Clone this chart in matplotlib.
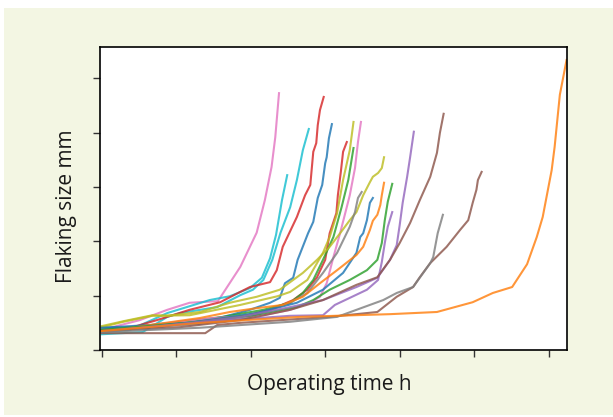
import matplotlib.pyplot as plt
from matplotlib.patches import Rectangle

# operating time (h) and flaking size (mm) per test bearing
pink_a_x = [0, 51, 88, 118, 156, 186, 208, 219, 228, 233, 238]
pink_a_y = [0.37, 0.55, 0.74, 0.87, 0.90, 1.53, 2.16, 2.76, 3.37, 3.92, 4.73]

cyan_a_x = [0, 55, 88, 105, 155, 186, 203, 217, 229, 240, 253, 262, 270, 278]
cyan_a_y = [0.29, 0.33, 0.61, 0.68, 0.79, 1.01, 1.11, 1.29, 1.66, 2.16, 2.63, 3.13, 3.68, 4.07]

cyan_b_x = [0, 38, 88, 145, 172, 199, 215, 226, 234, 242, 249]
cyan_b_y = [0.33, 0.37, 0.68, 0.92, 0.99, 1.14, 1.33, 1.69, 2.12, 2.76, 3.22]

red_a_x = [0, 29, 74, 118, 159, 186, 199, 226, 235, 243, 262, 273, 280, 284, 288, 290, 293, 298]
red_a_y = [0.37, 0.37, 0.55, 0.74, 0.88, 1.07, 1.16, 1.25, 1.47, 1.90, 2.45, 2.85, 3.04, 3.65, 3.81, 4.14, 4.42, 4.66]

blue_a_x = [0, 74, 118, 163, 199, 226, 239, 246, 257, 263, 277, 284, 290, 296, 300, 302, 305, 309]
blue_a_y = [0.41, 0.42, 0.50, 0.61, 0.74, 0.87, 0.96, 1.23, 1.33, 1.66, 2.15, 2.36, 2.80, 3.04, 3.44, 3.55, 3.90, 4.16]

red_b_x = [0, 78, 132, 172, 195, 226, 257, 276, 289, 300, 306, 315, 317, 321, 324, 329]
red_b_y = [0.35, 0.44, 0.52, 0.59, 0.64, 0.74, 0.92, 1.11, 1.34, 1.66, 2.15, 2.52, 2.85, 3.28, 3.65, 3.83]

olive_a_x = [0, 29, 68, 118, 186, 236, 253, 276, 297, 306, 316, 324, 333, 338]
olive_a_y = [0.42, 0.52, 0.63, 0.64, 0.83, 0.99, 1.07, 1.29, 1.79, 2.08, 2.52, 3.13, 3.68, 4.20]

green_a_x = [0, 96, 163, 217, 253, 270, 284, 297, 311, 322, 331, 338]
green_a_y = [0.37, 0.50, 0.61, 0.74, 0.87, 1.05, 1.29, 1.66, 2.08, 2.63, 3.13, 3.72]

pink_b_x = [0, 78, 132, 172, 217, 253, 280, 293, 302, 311, 320, 328, 333, 340, 344, 348]
pink_b_y = [0.35, 0.48, 0.57, 0.61, 0.64, 0.74, 0.87, 0.98, 1.23, 1.71, 2.15, 2.58, 2.85, 3.35, 3.83, 4.20]

olive_b_x = [0, 29, 68, 88, 132, 172, 208, 239, 270, 289, 306, 320, 333, 342, 351, 360, 364, 371, 376, 379]
olive_b_y = [0.44, 0.53, 0.64, 0.63, 0.70, 0.87, 0.98, 1.11, 1.42, 1.66, 1.90, 2.15, 2.39, 2.54, 2.85, 3.09, 3.19, 3.26, 3.35, 3.55]

gray_a_x = [0, 132, 199, 253, 276, 297, 316, 333, 340, 344, 349]
gray_a_y = [0.37, 0.48, 0.61, 0.87, 1.05, 1.42, 1.79, 2.27, 2.54, 2.80, 2.91]

blue_b_x = [0, 118, 208, 262, 297, 324, 342, 347, 351, 356, 360, 364]
blue_b_y = [0.41, 0.50, 0.68, 0.87, 1.11, 1.42, 1.79, 2.08, 2.15, 2.39, 2.71, 2.80]

orange_a_x = [0, 65, 132, 172, 208, 243, 270, 293, 316, 342, 351, 360, 364, 370, 374, 376, 379]
orange_a_y = [0.33, 0.46, 0.59, 0.70, 0.77, 0.83, 0.98, 1.23, 1.47, 1.75, 1.90, 2.21, 2.38, 2.49, 2.67, 2.85, 3.08]

green_b_x = [0, 132, 212, 262, 284, 306, 333, 356, 370, 376, 380, 384, 390]
green_b_y = [0.37, 0.52, 0.66, 0.79, 0.92, 1.11, 1.29, 1.47, 1.66, 1.97, 2.39, 2.73, 3.06]

purple_a_x = [0, 92, 172, 253, 297, 313, 333, 356, 371, 376, 380, 384, 390]
purple_a_y = [0.35, 0.46, 0.55, 0.63, 0.64, 0.83, 0.96, 1.11, 1.29, 1.62, 1.97, 2.27, 2.54]

purple_b_x = [0, 118, 186, 253, 297, 342, 370, 387, 396, 400, 404, 410, 414, 419]
purple_b_y = [0.33, 0.50, 0.61, 0.79, 0.92, 1.16, 1.33, 1.66, 1.93, 2.30, 2.71, 3.19, 3.55, 4.02]

brown_a_x = [0, 105, 186, 253, 297, 342, 370, 387, 400, 414, 427, 441, 450, 454, 459]
brown_a_y = [0.35, 0.42, 0.55, 0.74, 0.92, 1.20, 1.34, 1.66, 1.97, 2.34, 2.76, 3.19, 3.63, 4.00, 4.35]

brown_b_x = [0, 139, 155, 186, 306, 370, 396, 418, 427, 441, 463, 481, 492, 498, 503, 505, 510]
brown_b_y = [0.31, 0.31, 0.46, 0.50, 0.61, 0.70, 0.98, 1.16, 1.34, 1.60, 1.90, 2.21, 2.39, 2.71, 2.95, 3.13, 3.28]

gray_b_x = [0, 132, 253, 316, 378, 396, 418, 441, 445, 451, 458]
gray_b_y = [0.33, 0.41, 0.52, 0.61, 0.92, 1.05, 1.16, 1.60, 1.71, 2.15, 2.49]

orange_b_x = [0, 132, 266, 387, 450, 498, 525, 551, 571, 584, 592, 604, 608, 612, 615, 624]
orange_b_y = [0.35, 0.50, 0.61, 0.66, 0.70, 0.88, 1.05, 1.16, 1.58, 2.08, 2.45, 3.31, 3.74, 4.29, 4.70, 5.34]

series = [
    (pink_a_x, pink_a_y, 'tab:pink'),
    (cyan_a_x, cyan_a_y, 'tab:cyan'),
    (cyan_b_x, cyan_b_y, 'tab:cyan'),
    (red_a_x, red_a_y, 'tab:red'),
    (blue_a_x, blue_a_y, 'tab:blue'),
    (red_b_x, red_b_y, 'tab:red'),
    (olive_a_x, olive_a_y, 'tab:olive'),
    (green_a_x, green_a_y, 'tab:green'),
    (pink_b_x, pink_b_y, 'tab:pink'),
    (olive_b_x, olive_b_y, 'tab:olive'),
    (gray_a_x, gray_a_y, 'tab:gray'),
    (blue_b_x, blue_b_y, 'tab:blue'),
    (orange_a_x, orange_a_y, 'tab:orange'),
    (green_b_x, green_b_y, 'tab:green'),
    (purple_a_x, purple_a_y, 'tab:purple'),
    (purple_b_x, purple_b_y, 'tab:purple'),
    (brown_a_x, brown_a_y, 'tab:brown'),
    (brown_b_x, brown_b_y, 'tab:brown'),
    (gray_b_x, gray_b_y, 'tab:gray'),
    (orange_b_x, orange_b_y, 'tab:orange'),
]

fig = plt.figure(figsize=(6.13, 4.17), dpi=100)
fig.patch.set_facecolor('white')
bg = Rectangle((4/613, 2/417), 609/613, 407/417, transform=fig.transFigure,
               facecolor='#f3f6e3', edgecolor='none', zorder=-10)
fig.add_artist(bg)

ax = fig.add_axes([100/613, 67/417, 467/613, 303/417])
ax.set_facecolor('white')

for xs, ys, c in series:
    ax.plot(xs, ys, color=c, lw=1.5, alpha=0.82, solid_joinstyle='round')

ax.set_xlim(-2.3, 624.6)
ax.set_ylim(0, 5.58)
ax.set_xticks(range(0, 601, 100))
ax.set_yticks(range(0, 6))
ax.set_xticklabels([])
ax.set_yticklabels([])
ax.tick_params(direction='out', length=5, width=1, color='#333333')
for s in ax.spines.values():
    s.set_color('black')
    s.set_linewidth(1.2)

ax.set_xlabel('Operating time h', fontsize=15, family='Open Sans', color='#1a1a1a', labelpad=9)
ax.set_ylabel('Flaking size mm', fontsize=15, family='Open Sans', color='#1a1a1a', labelpad=8)
ax.yaxis.label.set_y(0.475)
ax.xaxis.label.set_x(0.49)

fig.savefig('out.png', dpi=100)
